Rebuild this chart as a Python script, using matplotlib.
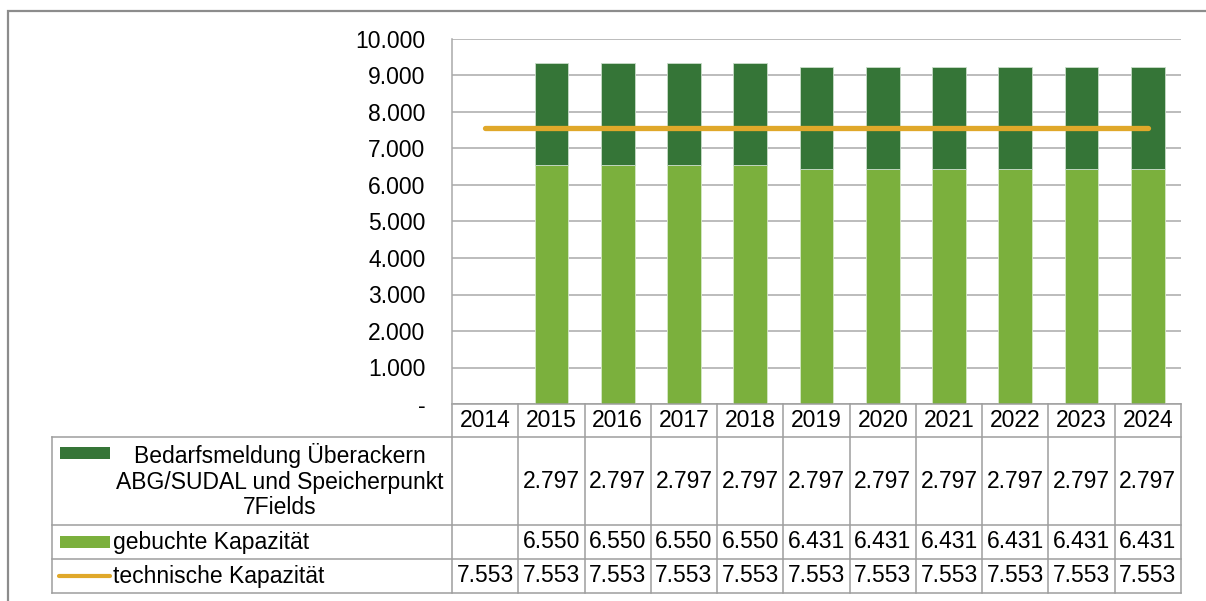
import matplotlib
matplotlib.use("Agg")
import matplotlib.pyplot as plt
import matplotlib.transforms as mtransforms
from matplotlib.patches import Rectangle
from matplotlib.lines import Line2D
import numpy as np

plt.rcParams['font.family'] = ['Liberation Sans', 'DejaVu Sans']

# ---- data ----
years = ["2014", "2015", "2016", "2017", "2018", "2019", "2020", "2021", "2022", "2023", "2024"]
gebucht = [None, 6550, 6550, 6550, 6550, 6431, 6431, 6431, 6431, 6431, 6431]
bedarf = [None, 2797, 2797, 2797, 2797, 2797, 2797, 2797, 2797, 2797, 2797]
technisch = [7553, 7553, 7553, 7553, 7553, 7553, 7553, 7553, 7553, 7553, 7553]
series_labels = ["Bedarfsmeldung Überackern\nABG/SUDAL und Speicherpunkt\n7Fields",
                 "gebuchte Kapazität", "technische Kapazität"]
yticks = [0, 1000, 2000, 3000, 4000, 5000, 6000, 7000, 8000, 9000, 10000]

C_DARK = "#357537"
C_LIGHT = "#7BB03D"
C_ORANGE = "#E0A82A"
C_GRID = "#A9A9A9"
C_TAB = "#9E9E9E"
FS = 16.5

W, H = 1206, 601
fig = plt.figure(figsize=(W / 100, H / 100), dpi=100)

# outer frame
fig.patches.append(Rectangle((8 / W, -0.1), 1.2, 1 - 11 / H + 0.1, transform=fig.transFigure,
                             fill=False, edgecolor="#8C8C8C", linewidth=1.6))

L, R, T, B = 452, 1181, 39, 404
ax = fig.add_axes([L / W, 1 - B / H, (R - L) / W, (B - T) / H])
n = len(years)
x = np.arange(n)
ax.set_xlim(-0.5, n - 0.5)
ax.set_ylim(0, 10000)
ax.set_yticks(yticks)
ax.set_yticklabels(["-" if v == 0 else f"{v:,}".replace(",", ".") for v in yticks], fontsize=FS)
ax.tick_params(axis="y", length=0, pad=19)
ax.set_xticks([])
for s in ["top", "right", "bottom"]:
    ax.spines[s].set_visible(False)
ax.spines["left"].set_color(C_GRID)
ax.spines["left"].set_linewidth(1.1)
ax.yaxis.grid(True, color=C_GRID, linewidth=1.1)
ax.set_axisbelow(True)

idx = [i for i in range(n) if gebucht[i] is not None]
gb = np.array([gebucht[i] for i in idx], dtype=float)
bd = np.array([bedarf[i] for i in idx], dtype=float)
ax.bar(x[idx], gb, width=0.51, color=C_LIGHT, edgecolor="#D6E8C8", linewidth=0.6, zorder=2)
ax.bar(x[idx], bd, bottom=gb, width=0.51, color=C_DARK, edgecolor="#C9DCC9", linewidth=0.6, zorder=2)
ax.plot(x, technisch, color=C_ORANGE, linewidth=3.8, solid_capstyle="round", zorder=3)

# ---- data table ----
ph = B - T  # plot height in px
colw = (R - L) / n
def ya(py):
    return -(py - B) / ph
def xd(px):
    return (px - L) / colw - 0.5

trans = mtransforms.blended_transform_factory(ax.transData, ax.transAxes)
row_edges = [ya(404), ya(437), ya(525), ya(559), ya(593)]
left_edge = xd(52)

def hline(x0, x1, y):
    ax.add_line(Line2D([x0, x1], [y, y], transform=trans, color=C_TAB, lw=1.1, clip_on=False))
def vline(xx, y0, y1):
    ax.add_line(Line2D([xx, xx], [y0, y1], transform=trans, color=C_TAB, lw=1.1, clip_on=False))

hline(-0.5, n - 0.5, row_edges[0])
for y in row_edges[1:]:
    hline(left_edge, n - 0.5, y)
for k in range(n + 1):
    vline(k - 0.5, row_edges[0], row_edges[4])
vline(left_edge, row_edges[1], row_edges[4])

def fmt(v):
    return "" if v is None else f"{v:,}".replace(",", ".")

for i in range(n):
    ax.text(i, (row_edges[0] + row_edges[1]) / 2, years[i], transform=trans, ha="center",
            va="center", fontsize=FS, clip_on=False)
    for r, ser in enumerate([bedarf, gebucht, technisch]):
        ax.text(i, (row_edges[r + 1] + row_edges[r + 2]) / 2, fmt(ser[i]), transform=trans,
                ha="center", va="center", fontsize=FS, clip_on=False)

# legend column
ax.add_patch(Rectangle((xd(60), ya(459)), xd(110) - xd(60), ya(447) - ya(459), transform=trans,
                       facecolor=C_DARK, edgecolor="none", clip_on=False))
ax.add_patch(Rectangle((xd(60), ya(548)), xd(110) - xd(60), ya(536) - ya(548), transform=trans,
                       facecolor=C_LIGHT, edgecolor="none", clip_on=False))
ax.add_line(Line2D([xd(59), xd(110)], [ya(576), ya(576)], transform=trans, color=C_ORANGE,
                   lw=3.0, solid_capstyle="round", clip_on=False))
ax.text(xd(280), (row_edges[1] + row_edges[2]) / 2, series_labels[0], transform=trans, ha="center",
        va="center", fontsize=FS, linespacing=1.15, clip_on=False)
ax.text(xd(113), (row_edges[2] + row_edges[3]) / 2, series_labels[1], transform=trans, ha="left",
        va="center", fontsize=FS, clip_on=False)
ax.text(xd(113), (row_edges[3] + row_edges[4]) / 2, series_labels[2], transform=trans, ha="left",
        va="center", fontsize=FS, clip_on=False)

fig.savefig("out.png", dpi=100)
